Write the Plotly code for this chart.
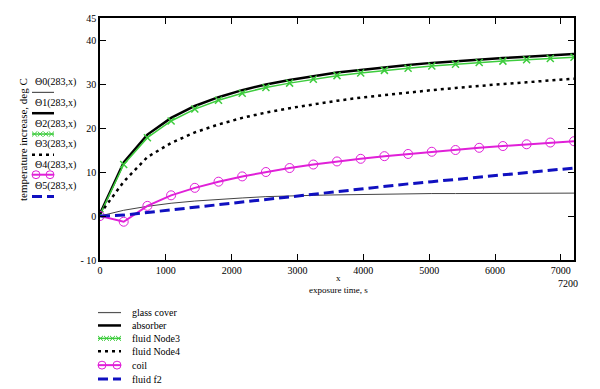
import plotly.graph_objects as go

t = [0, 360, 720, 1080, 1440, 1800, 2160, 2520, 2880, 3240, 3600, 3960, 4320, 4680, 5040, 5400, 5760, 6120, 6480, 6840, 7200]
glass_cover = [0, 1.3, 2.2, 2.9, 3.4, 3.8, 4.1, 4.4, 4.6, 4.7, 4.8, 4.9, 5.0, 5.0, 5.1, 5.1, 5.1, 5.2, 5.2, 5.2, 5.2]
absorber = [0.5, 12.2, 18.5, 22.3, 25.0, 27.0, 28.6, 29.9, 30.9, 31.8, 32.6, 33.2, 33.8, 34.3, 34.8, 35.2, 35.6, 35.9, 36.2, 36.5, 36.8]
fluid_node3 = [0.3, 11.7, 17.8, 21.6, 24.3, 26.3, 27.9, 29.2, 30.2, 31.1, 31.9, 32.5, 33.1, 33.6, 34.1, 34.5, 34.9, 35.2, 35.5, 35.8, 36.1]
fluid_node4 = [0.5, 7.8, 13.4, 16.6, 19.0, 20.8, 22.3, 23.5, 24.5, 25.4, 26.2, 26.9, 27.5, 28.1, 28.6, 29.1, 29.6, 30.0, 30.4, 30.8, 31.2]
coil = [0, -1.3, 2.3, 4.7, 6.4, 7.8, 9.0, 10.0, 10.9, 11.7, 12.4, 13.0, 13.6, 14.1, 14.6, 15.0, 15.5, 15.9, 16.3, 16.7, 17.0]
fluid_f2 = [0, 0.2, 0.8, 1.4, 2.0, 2.6, 3.2, 3.8, 4.4, 5.0, 5.6, 6.2, 6.7, 7.3, 7.8, 8.3, 8.9, 9.4, 9.9, 10.4, 10.9]

series_names = ["glass cover", "absorber", "fluid Node3", "fluid Node4", "coil", "fluid f2"]
x_ticks = [0, 1000, 2000, 3000, 4000, 5000, 6000, 7000]
y_ticks = [-10, 0, 10, 20, 30, 40, 45]
y_ticktext = ["- 10", "0", "10", "20", "30", "40", "45"]
theta_labels = ["Θ0(283,x)", "Θ1(283,x)", "Θ2(283,x)", "Θ3(283,x)", "Θ4(283,x)", "Θ5(283,x)"]

FONT = "Liberation Serif"
GREEN = "#3dcc3d"
MAGENTA = "#e020d8"
BLUE = "#1010c0"

line_styles = [dict(color="#444444", width=1), dict(color="black", width=2.5),
               dict(color=GREEN, width=1.5), dict(color="black", width=2.5, dash="3px,4px"),
               dict(color=MAGENTA, width=2), dict(color=BLUE, width=3, dash="10px,5px")]

fig = go.Figure()
data = [glass_cover, absorber, fluid_node3, fluid_node4, coil, fluid_f2]
for i, (name, ys) in enumerate(zip(series_names, data)):
    kw = dict(x=t, y=ys, name=name, line=line_styles[i], mode="lines", showlegend=False)
    if name == "fluid Node3":
        kw["mode"] = "lines+markers"
        kw["marker"] = dict(symbol="x-thin", size=7, line=dict(color=GREEN, width=1.5))
    if name == "coil":
        kw["mode"] = "lines+markers"
        kw["marker"] = dict(symbol="circle-open", size=9, color=MAGENTA, line=dict(width=1))
    fig.add_trace(go.Scatter(**kw))

L, R, T, B = 100, 574, 16, 260
W = R - L
H = B - T

def px(xp):
    return (xp - L) / W

def py(yp):
    return (B - yp) / H

annotations = []
shapes = []

def sample(x0, x1, yp, idx):
    st = dict(line_styles[idx])
    if idx == 0:
        st = dict(color="#555555", width=1.2)
    shapes.append(dict(type="line", xref="paper", yref="paper", x0=px(x0), x1=px(x1),
                       y0=py(yp), y1=py(yp), line=st))
    if idx == 2:
        n = 4
        for k in range(n):
            cx = x0 + 2.5 + k * (x1 - x0 - 5) / (n - 1)
            for d in [(-2.5, -2.5, 2.5, 2.5), (-2.5, 2.5, 2.5, -2.5)]:
                shapes.append(dict(type="line", xref="paper", yref="paper",
                                   x0=px(cx + d[0]), x1=px(cx + d[2]),
                                   y0=py(yp + d[1]), y1=py(yp + d[3]),
                                   line=dict(color=GREEN, width=1)))
    if idx == 4:
        for cx in [x0 + 4, x1 - 4]:
            shapes.append(dict(type="circle", xref="paper", yref="paper",
                               x0=px(cx - 4), x1=px(cx + 4), y0=py(yp + 4), y1=py(yp - 4),
                               line=dict(color=MAGENTA, width=1)))

# left-side Mathcad trace labels
label_y = [81, 102, 123, 143, 164, 185]
sample_y = [91, 112, 133, 154, 174, 196]
for i, lab in enumerate(theta_labels):
    annotations.append(dict(text=lab, x=px(33), y=py(label_y[i]), xref="paper", yref="paper",
                            xanchor="left", yanchor="middle", showarrow=False,
                            font=dict(family=FONT, size=10, color="black")))
    sample(32, 54, sample_y[i], i)

# bottom legend
leg_y = [313, 326, 339, 352, 366, 380]
for i, name in enumerate(series_names):
    annotations.append(dict(text=name, x=px(130), y=py(leg_y[i]), xref="paper", yref="paper",
                            xanchor="left", yanchor="middle", showarrow=False,
                            font=dict(family=FONT, size=10, color="black")))
    sample(98, 121, leg_y[i], i)

annotations.append(dict(text="temperature increase, deg C", textangle=-90,
                        x=px(23), y=py(139), xref="paper", yref="paper",
                        xanchor="center", yanchor="middle", showarrow=False,
                        font=dict(family=FONT, size=11, color="black")))
annotations.append(dict(text="x", x=px(338), y=py(285), xref="paper", yref="paper",
                        showarrow=False, font=dict(family=FONT, size=9, color="black")))
annotations.append(dict(text="exposure time, s", x=px(338), y=py(297), xref="paper", yref="paper",
                        showarrow=False, font=dict(family=FONT, size=9, color="black")))
annotations.append(dict(text="7200", x=px(580), y=py(284), xref="paper", yref="paper",
                        xanchor="right", yanchor="middle", showarrow=False,
                        font=dict(family=FONT, size=10, color="black")))

fig.update_layout(
    width=600, height=389,
    margin=dict(l=L, r=600 - R, t=T, b=389 - B),
    plot_bgcolor="white", paper_bgcolor="white",
    font=dict(family=FONT, size=10, color="black"),
    xaxis=dict(range=[0, 7200], tickvals=x_ticks, ticks="inside", ticklen=6, tickcolor="black",
               showline=True, linecolor="black", linewidth=1.5, mirror="ticks",
               showgrid=False, zeroline=False, tickfont=dict(family=FONT, size=10)),
    yaxis=dict(range=[-10, 45], tickvals=y_ticks, ticktext=y_ticktext, ticks="inside", ticklen=6,
               tickcolor="black", showline=True, linecolor="black", linewidth=1.5, mirror="ticks",
               showgrid=False, zeroline=False, tickfont=dict(family=FONT, size=10)),
    showlegend=False,
    annotations=annotations,
    shapes=shapes,
)

fig.write_html("out.html", config={"displayModeBar": False},
               post_script="document.body.style.margin='0px';document.body.style.overflow='hidden';")
